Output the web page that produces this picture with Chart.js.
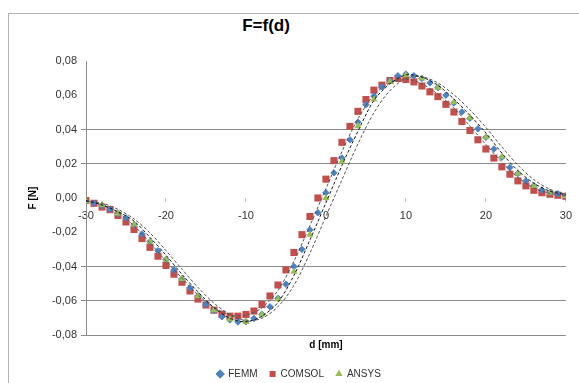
<!DOCTYPE html>
<html>
<head>
<meta charset="utf-8">
<script src="https://cdn.jsdelivr.net/npm/chart.js@4.4.0/dist/chart.umd.min.js"></script>
<style>
  html, body { margin: 0; padding: 0; background: #fff; overflow: hidden; }
  #wrap { position: relative; width: 579px; height: 383px; }
  #frame { position: absolute; left: 8px; top: 13px; width: 640px; height: 420px; border: 1px solid #b4b4b4; }
  #title { position: absolute; left: 206px; top: 16px; width: 120px; text-align: center;
           font: bold 17px "Liberation Sans", Arial, sans-serif; color: #000; }
  canvas { position: absolute; left: 0; top: 0; }
</style>
</head>
<body>
<div id="wrap">
  <div id="frame"></div>
  <div id="title">F=f(d)</div>
  <canvas id="chart" width="579" height="383"></canvas>
</div>
<script>
  // displacement d [mm], one point per mm (FEMM, COMSOL) and every 2 mm (ANSYS, trend lines)
  const dFine = [-30, -29, -28, -27, -26, -25, -24, -23, -22, -21, -20, -19, -18, -17, -16, -15,
    -14, -13, -12, -11, -10, -9, -8, -7, -6, -5, -4, -3, -2, -1, 0, 1, 2, 3, 4, 5, 6, 7, 8, 9,
    10, 11, 12, 13, 14, 15, 16, 17, 18, 19, 20, 21, 22, 23, 24, 25, 26, 27, 28, 29, 30];
  const dCoarse = [-30, -28, -26, -24, -22, -20, -18, -16, -14, -12, -10, -8, -6, -4, -2, 0,
    2, 4, 6, 8, 10, 12, 14, 16, 18, 20, 22, 24, 26, 28, 30];

  // force F [N]
  const femm = [-0.0018, -0.0030, -0.0045, -0.0066, -0.0092, -0.0116, -0.0158, -0.0210, -0.0255, -0.0308,
    -0.0360, -0.0420, -0.0472, -0.0524, -0.0572, -0.0620, -0.0658, -0.0694, -0.0712, -0.0724,
    -0.0722, -0.0704, -0.0678, -0.0635, -0.0585, -0.0504, -0.0400, -0.0300, -0.0186, -0.0086,
    0.0031, 0.0147, 0.0234, 0.0340, 0.0443, 0.0545, 0.0596, 0.0649, 0.0684, 0.0714,
    0.0724, 0.0714, 0.0698, 0.0672, 0.0645, 0.0600, 0.0555, 0.0502, 0.0465, 0.0404,
    0.0355, 0.0286, 0.0238, 0.0178, 0.0143, 0.0100, 0.0072, 0.0047, 0.0033, 0.0025, 0.0012];
  const comsol = [-0.0015, -0.0031, -0.0053, -0.0068, -0.0102, -0.0140, -0.0184, -0.0237, -0.0288, -0.0340,
    -0.0394, -0.0445, -0.0492, -0.0543, -0.0590, -0.0625, -0.0655, -0.0678, -0.0690, -0.0690,
    -0.0680, -0.0660, -0.0622, -0.0572, -0.0508, -0.0420, -0.0318, -0.0214, -0.0108, 0.0000,
    0.0110, 0.0218, 0.0325, 0.0418, 0.0506, 0.0575, 0.0630, 0.0659, 0.0686, 0.0698,
    0.0692, 0.0678, 0.0654, 0.0620, 0.0592, 0.0547, 0.0502, 0.0447, 0.0394, 0.0340,
    0.0286, 0.0233, 0.0182, 0.0139, 0.0100, 0.0071, 0.0045, 0.0031, 0.0022, 0.0016, 0.0010];
  const ansys = [-0.0020, -0.0041, -0.0090, -0.0155, -0.0253, -0.0360, -0.0472, -0.0572, -0.0655, -0.0708,
    -0.0724, -0.0680, -0.0590, -0.0430, -0.0214, 0.0000, 0.0212, 0.0420, 0.0576, 0.0678,
    0.0718, 0.0698, 0.0645, 0.0560, 0.0469, 0.0355, 0.0241, 0.0143, 0.0071, 0.0031, 0.0012];

  // dashed trend curves
  const trendFemm = [-0.0015, -0.0040, -0.0080, -0.0135, -0.0230, -0.0334, -0.0446, -0.0548, -0.0640, -0.0703,
    -0.0723, -0.0690, -0.0610, -0.0452, -0.0245, -0.0028, 0.0190, 0.0390, 0.0570, 0.0667,
    0.0719, 0.0706, 0.0658, 0.0578, 0.0483, 0.0380, 0.0262, 0.0160, 0.0086, 0.0040, 0.0018];
  const trendComsol = [-0.0015, -0.0042, -0.0085, -0.0162, -0.0262, -0.0368, -0.0468, -0.0566, -0.0640, -0.0684,
    -0.0685, -0.0641, -0.0540, -0.0369, -0.0161, 0.0055, 0.0271, 0.0462, 0.0602, 0.0672,
    0.0695, 0.0666, 0.0606, 0.0525, 0.0420, 0.0313, 0.0208, 0.0120, 0.0058, 0.0027, 0.0013];
  const trendAnsys = [-0.0020, -0.0030, -0.0066, -0.0122, -0.0204, -0.0307, -0.0416, -0.0522, -0.0614, -0.0682,
    -0.0716, -0.0702, -0.0635, -0.0510, -0.0322, -0.0107, 0.0106, 0.0316, 0.0498, 0.0627,
    0.0698, 0.0708, 0.0672, 0.0603, 0.0515, 0.0412, 0.0298, 0.0192, 0.0107, 0.0051, 0.0022];

  // y values whose gridline does not show in the original picture
  const noGrid = [0.08, 0.06, 0, -0.02];

  const font = "'Liberation Sans', Arial, sans-serif";
  const pts = (xs, ys) => xs.map((x, i) => ({ x, y: ys[i] }));
  const comma = (v) => (Math.abs(v) < 1e-9 ? 0 : v).toFixed(2).replace(".", ",");

  const trend = (data, color) => ({
    label: "", data, showLine: true, borderColor: color, borderWidth: 1, borderDash: [3, 2],
    pointRadius: 0, tension: 0.3, order: 0,
  });

  new Chart(document.getElementById("chart"), {
    type: "scatter",
    data: {
      datasets: [
        { label: "FEMM", data: pts(dFine, femm), pointStyle: "rectRot", pointRadius: 3.2,
          backgroundColor: "#4F81BD", borderColor: "#4F81BD", borderWidth: 1, order: 2 },
        { label: "COMSOL", data: pts(dFine, comsol), pointStyle: "rect", pointRadius: 5,
          backgroundColor: "#C0504D", borderColor: "#C0504D", borderWidth: 0, order: 3 },
        { label: "ANSYS", data: pts(dCoarse, ansys), pointStyle: "triangle", pointRadius: 4.2,
          backgroundColor: "#9BBB59", borderColor: "#9BBB59", borderWidth: 0, order: 1 },
        trend(pts(dCoarse, trendFemm), "#1a1a1a"),
        trend(pts(dCoarse, trendComsol), "#555"),
        trend(pts(dCoarse, trendAnsys), "#555"),
      ],
    },
    options: {
      responsive: false,
      animation: false,
      events: [],
      layout: { padding: { left: 32, right: 13, top: 61, bottom: -6 } },
      scales: {
        x: {
          type: "linear", position: { y: 0 }, min: -30, max: 30,
          ticks: { stepSize: 10, color: "#333", font: { family: font, size: 11 }, padding: 7, maxRotation: 0 },
          grid: { drawOnChartArea: false, drawTicks: true, tickLength: 4, color: "#c4c4c4" },
          border: { display: false },
        },
        x2: {
          type: "linear", position: "bottom", min: -30, max: 30,
          ticks: { display: false }, grid: { display: false }, border: { display: false },
          title: { display: true, text: "d [mm]", color: "#000",
                   font: { family: font, size: 10, weight: "bold" }, padding: { top: 0, bottom: 6 } },
          afterFit: (s) => { s.height = 22; },
        },
        y: {
          min: -0.08, max: 0.08,
          afterFit: (s) => { s.width = 54; },
          ticks: { stepSize: 0.02, color: "#333", font: { family: font, size: 11 }, padding: 4, callback: comma },
          grid: {
            tickLength: 5,
            color: (ctx) => (ctx.tick && noGrid.some((v) => Math.abs(v - ctx.tick.value) < 1e-9) ? "rgba(0,0,0,0)" : "#8c8c8c"),
          },
          border: { display: true, color: "#8c8c8c" },
          title: { display: true, text: "F [N]", color: "#000",
                   font: { family: font, size: 10, weight: "bold" }, padding: { top: -5, bottom: 0 } },
        },
      },
      plugins: {
        tooltip: { enabled: false },
        legend: {
          position: "bottom",
          labels: {
            usePointStyle: true, boxWidth: 6, boxHeight: 6, padding: 12, color: "#333",
            font: { family: font, size: 10 },
            filter: (item) => item.datasetIndex < 3,
            sort: (a, b) => a.datasetIndex - b.datasetIndex,
          },
        },
      },
    },
  });
</script>
</body>
</html>
